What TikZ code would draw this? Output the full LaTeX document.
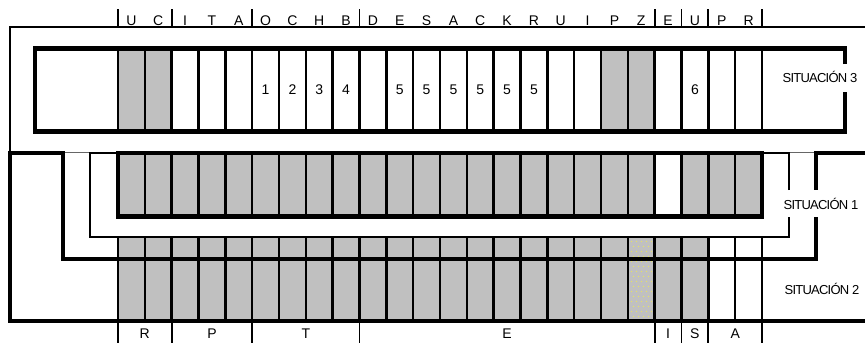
\documentclass[tikz,border=0pt]{standalone}
\usepackage{fontspec}
\setmainfont{Liberation Sans}
\newfontfamily\tightfont[LetterSpace=-6]{Liberation Sans}
\definecolor{cellgray}{RGB}{192,192,192}
\definecolor{dotyellow}{RGB}{232,232,90}
\begin{document}
\begin{tikzpicture}[x=1pt,y=-1pt,
  cellsep/.style={line width=2.5pt},
  boxline/.style={line width=4.5pt},
  heavy/.style={line width=4pt},
  thinline/.style={line width=1.5pt},
  graycell/.style={fill=cellgray},
  letter/.style={font=\fontsize{14}{14}\selectfont, anchor=base, inner sep=0pt},
  sitlabel/.style={font=\tightfont\fontsize{13}{13}\selectfont, anchor=base, inner sep=0pt},
  tickline/.style={line width=1.8pt}
]
\useasboundingbox (0,0) rectangle (865,343);
\def\cw{26.8333}
% ---------- thin outer lines (situation 3 area) ----------
\draw[thinline] (10,152.5) -- (10,27) -- (866,27);
\draw[thinline, black!60] (10,152.5) -- (866,152.5);
% ---------- situation 3 ----------
\foreach \k in {1,2,19,20}{
  \fill[graycell] ({118+(\k-1)*\cw},48.5) rectangle ({118+\k*\cw},131.5);
}
\foreach \k in {0,...,24}{
  \draw[cellsep] ({118+\k*\cw},48.5) -- ({118+\k*\cw},131.5);
}
\draw[boxline] (845,64) -- (845,48.5) -- (35,48.5) -- (35,131.5) -- (845,131.5) -- (845,92);
\foreach \k/\n in {6/1,7/2,8/3,9/4,11/5,12/5,13/5,14/5,15/5,16/5,22/6}{
  \node[letter] (num\k) at ({118+(\k-0.5)*\cw},94.5) {\n};
}
% ---------- situation 1 ----------
\foreach \k in {1,...,20,22,23,24}{
  \fill[graycell] ({118+(\k-1)*\cw},153) rectangle ({118+\k*\cw},216.5);
}
\foreach \k in {0,...,24}{
  \draw[cellsep] ({118+\k*\cw},153) -- ({118+\k*\cw},216.5);
}
\draw[boxline] (118,153) rectangle (762,216.5);
\draw[thinline] (789,190) -- (789,153) -- (90,153) -- (90,237) -- (789,237) -- (789,217);
% ---------- situation 2 ----------
\foreach \k in {1,...,22}{
  \fill[graycell] ({118+(\k-1)*\cw},237.5) rectangle ({118+\k*\cw},321);
}
\foreach \r in {0,...,15}{
  \foreach \c in {0,...,4}{
    \fill[dotyellow] ({118+19*\cw+3+\c*5+mod(\r,2)*2.5},{240.5+\r*5}) rectangle ++(1,1);
  }
}
\foreach \k in {0,...,24}{
  \draw[cellsep] ({118+\k*\cw},237.5) -- ({118+\k*\cw},321);
}
\draw[heavy] (866,152.5) -- (816,152.5) -- (816,190);
\draw[heavy] (816,217) -- (816,259) -- (63,259) -- (63,152.5) -- (10,152.5) -- (10,321) -- (866,321);
% ---------- top scale ----------
\foreach \k in {0,2,5,9,20,21,22,24}{
  \draw[tickline] ({118+\k*\cw},9) -- ({118+\k*\cw},27);
  \draw[tickline] ({118+\k*\cw},321) -- ({118+\k*\cw},343);
}
\foreach \l [count=\k] in {U,C,I,T,A,O,C,H,B,D,E,S,A,C,K,R,U,I,P,Z,E,U,P,R}{
  \node[letter] (top\k) at ({118+(\k-0.5)*\cw},25) {\l};
}
% ---------- bottom scale ----------
\node[letter] (botR) at (144.8,338) {R};
\node[letter] (botP) at (212,338) {P};
\node[letter] (botT) at (305.8,338) {T};
\node[letter] (botE) at (507,338) {E};
\node[letter] (botI) at (668.1,338) {I};
\node[letter] (botS) at (694.9,338) {S};
\node[letter] (botA) at (735.2,338) {A};
% ---------- situation labels ----------
\node[sitlabel] (sit3) at (820,82.5) {SITUACIÓN 3};
\node[sitlabel] (sit1) at (821,209.5) {SITUACIÓN 1};
\node[sitlabel] (sit2) at (822,294.5) {SITUACIÓN 2};
\end{tikzpicture}
\end{document}
